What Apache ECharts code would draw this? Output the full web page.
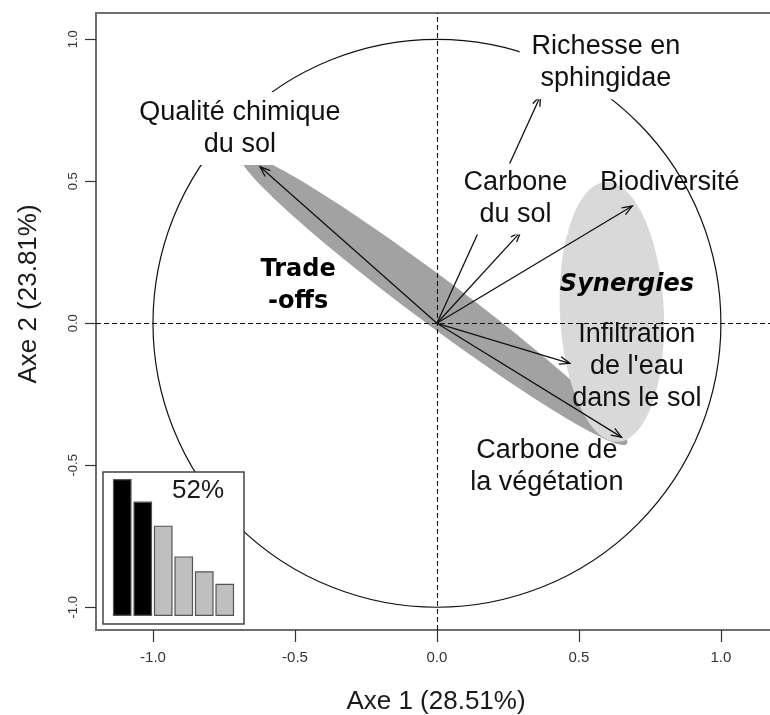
<!DOCTYPE html>
<html>
<head>
<meta charset="utf-8">
<script src="https://cdn.jsdelivr.net/npm/echarts@6/dist/echarts.min.js"></script>
<style>
  html, body { margin: 0; padding: 0; background: #ffffff; }
  #chart { width: 770px; height: 715px; }
</style>
</head>
<body>
<div id="chart"></div>
<script>
// ---- Correlation circle: loadings of each variable on axes 1 and 2 ----
const variableNames = [
  'Qualité chimique du sol',
  'Richesse en sphingidae',
  'Carbone du sol',
  'Biodiversité',
  "Infiltration de l'eau dans le sol",
  'Carbone de la végétation'
];
const axis1Loadings = [-0.623, 0.365, 0.295, 0.688, 0.468, 0.650];
const axis2Loadings = [0.551, 0.801, 0.322, 0.413, -0.141, -0.401];

// Variable labels as printed (with line breaks)
const variableLabels = [
  'Qualité chimique\ndu sol',
  'Richesse en\nsphingidae',
  'Carbone\ndu sol',
  'Biodiversité',
  "Infiltration\nde l'eau\ndans le sol",
  'Carbone de\nla végétation'
];

// Percentage of inertia for each principal axis (eigenvalue bar plot)
const eigenPercent = [28.51, 23.81, 18.8, 12.4, 9.3, 6.7];
const retainedAxes = 2;

// Group envelopes (in axis units)
const groupNames = ['Trade\n-offs', 'Synergies'];
const groupCenterX = [-0.012, 0.616];
const groupCenterY = [0.084, 0.040];
const groupSemiMajor = [0.850, 0.458];
const groupSemiMinor = [0.082, 0.183];
const groupAngleDeg = [-36.75, 92.65];

// Tick values shared by both axes
const axisTicks = [-1, -0.5, 0, 0.5, 1];

// ---- layout (label anchors, in axis units; white box padding in px) ----
const labelAnchorX = [-0.694, 0.595, 0.271, 0.820, 0.704, 0.387];
const labelAnchorY = [0.686, 0.917, 0.438, 0.494, -0.154, -0.506];
const labelBoxPadding = [[6, 11, 3, 11], [6, 12, 3, 12], [4, 1, 3, 4], null, null, null];
const groupLabelX = [-0.489, 0.669];
const groupLabelY = [0.131, 0.135];

const FONT = '"Liberation Sans", Arial, Helvetica, sans-serif';
const X_MIN = -1.2007, X_MAX = 1.194;
const Y_MIN = -1.080, Y_MAX = 1.0926;

const chart = echarts.init(document.getElementById('chart'), null, { renderer: 'canvas' });

// Ellipse outline sampled in data space, projected through the axes
function ellipseItem(params, api) {
  const cx = api.value(0), cy = api.value(1);
  const a = api.value(2), b = api.value(3);
  const phi = api.value(4) * Math.PI / 180;
  const pts = [];
  const n = 120;
  for (let k = 0; k < n; k++) {
    const t = 2 * Math.PI * k / n;
    const ex = a * Math.cos(t), ey = b * Math.sin(t);
    const x = cx + ex * Math.cos(phi) - ey * Math.sin(phi);
    const y = cy + ex * Math.sin(phi) + ey * Math.cos(phi);
    pts.push(api.coord([x, y]));
  }
  return {
    type: 'polygon',
    shape: { points: pts },
    style: { fill: params.dataIndex === 0 ? '#a2a2a2' : '#d9d9d9', stroke: null }
  };
}

// Loading vector: segment from the origin with an open arrow head
function arrowItem(params, api) {
  const o = api.coord([0, 0]);
  const p = api.coord([api.value(0), api.value(1)]);
  const ang = Math.atan2(p[1] - o[1], p[0] - o[0]);
  const len = 11, spread = 0.36;
  const h1 = [p[0] - len * Math.cos(ang - spread), p[1] - len * Math.sin(ang - spread)];
  const h2 = [p[0] - len * Math.cos(ang + spread), p[1] - len * Math.sin(ang + spread)];
  const stroke = { stroke: '#111', lineWidth: 1.3, fill: null };
  return {
    type: 'group',
    children: [
      { type: 'line', shape: { x1: o[0], y1: o[1], x2: p[0], y2: p[1] }, style: stroke },
      { type: 'polyline', shape: { points: [h1, p, h2] }, style: stroke }
    ]
  };
}

// Unit circle of correlations
function circleItem(params, api) {
  const c = api.coord([0, 0]);
  const r = api.size([1, 1])[0];
  return {
    type: 'circle',
    shape: { cx: c[0], cy: c[1], r: r },
    style: { fill: null, stroke: '#111', lineWidth: 1.2 }
  };
}

const groupData = groupCenterX.map((x, i) => [x, groupCenterY[i], groupSemiMajor[i], groupSemiMinor[i], groupAngleDeg[i]]);
const arrowData = axis1Loadings.map((x, i) => ({ name: variableNames[i], value: [x, axis2Loadings[i]] }));
const labelData = labelAnchorX.map((x, i) => {
  const item = { name: variableLabels[i], value: [x, labelAnchorY[i]] };
  if (labelBoxPadding[i]) {
    item.label = { backgroundColor: '#ffffff', padding: labelBoxPadding[i] };
  }
  return item;
});
const groupLabelData = groupLabelX.map((x, i) => ({
  name: groupNames[i],
  value: [x, groupLabelY[i]],
  label: { fontStyle: i === 1 ? 'italic' : 'normal' }
}));

const plainAxisLine = { show: false, onZero: false };

const option = {
  animation: false,
  backgroundColor: '#ffffff',
  grid: [
    { left: 96, top: 13, width: 680, height: 617, show: true, borderColor: '#6e6e6e', borderWidth: 2, backgroundColor: 'transparent', outerBoundsMode: 'none', containLabel: false },
    { left: 103, top: 472, width: 141, height: 152, show: true, borderColor: '#444', borderWidth: 1.5, backgroundColor: '#ffffff', z: 10, outerBoundsMode: 'none' },
    { left: 112, top: 472, width: 123, height: 144, z: 11, outerBoundsMode: 'none' }
  ],
  xAxis: [
    {
      type: 'value', gridIndex: 0, min: X_MIN, max: X_MAX, position: 'bottom',
      axisLine: plainAxisLine,
      splitLine: { show: false },
      axisTick: { show: true, inside: false, length: 12, customValues: axisTicks, lineStyle: { color: '#333', width: 1.2 } },
      axisLabel: { customValues: axisTicks, formatter: v => v.toFixed(1), fontSize: 15, color: '#333', fontFamily: FONT, margin: 20 },
      name: 'Axe 1 (28.51%)', nameLocation: 'middle', nameGap: 59,
      nameTextStyle: { fontSize: 26, color: '#1a1a1a', fontFamily: FONT }
    },
    { type: 'value', gridIndex: 1, min: 0, max: 1, show: false },
    { type: 'category', gridIndex: 2, data: eigenPercent.map((_, i) => String(i + 1)), show: false, boundaryGap: true }
  ],
  yAxis: [
    {
      type: 'value', gridIndex: 0, min: Y_MIN, max: Y_MAX, position: 'left',
      axisLine: plainAxisLine,
      splitLine: { show: false },
      axisTick: { show: true, inside: false, length: 11, customValues: axisTicks, lineStyle: { color: '#333', width: 1.2 } },
      axisLabel: { customValues: axisTicks, formatter: v => v.toFixed(1), rotate: 90, fontSize: 13, color: '#333', fontFamily: FONT, margin: 16 }
    },
    { type: 'value', gridIndex: 1, min: 0, max: 1, show: false },
    { type: 'value', gridIndex: 2, min: 0, max: 29.97, show: false }
  ],
  graphic: [
    {
      type: 'text', x: 29, y: 294, rotation: Math.PI / 2, z: 20,
      style: { text: 'Axe 2 (23.81%)', fontSize: 26, fontFamily: FONT, fill: '#1a1a1a', align: 'center', verticalAlign: 'middle' }
    },
    {
      type: 'text', x: 198, y: 491, z: 30,
      style: {
        text: Math.round(eigenPercent.slice(0, retainedAxes).reduce((s, v) => s + v, 0)) + '%',
        fontSize: 26, fontFamily: FONT, fill: '#1a1a1a', align: 'center', verticalAlign: 'middle'
      }
    }
  ],
  series: [
    {
      type: 'custom', name: 'groupes', xAxisIndex: 0, yAxisIndex: 0, z: 2,
      renderItem: ellipseItem, data: groupData, silent: true
    },
    {
      type: 'custom', name: 'cercle', xAxisIndex: 0, yAxisIndex: 0, z: 4,
      renderItem: circleItem, data: [[0, 0]], silent: true,
      markLine: {
        silent: true, symbol: 'none', label: { show: false },
        lineStyle: { color: '#111', width: 1.1, type: [5, 3] },
        data: [{ xAxis: 0 }, { yAxis: 0 }]
      }
    },
    {
      type: 'custom', name: 'variables', xAxisIndex: 0, yAxisIndex: 0, z: 5,
      renderItem: arrowItem, data: arrowData, silent: true
    },
    {
      type: 'scatter', name: 'étiquettes', xAxisIndex: 0, yAxisIndex: 0, z: 6,
      symbolSize: 0, data: labelData, silent: true,
      itemStyle: { opacity: 1 },
      label: {
        show: true, position: 'inside', formatter: p => p.name,
        fontSize: 27, lineHeight: 32, color: '#111', fontFamily: FONT, align: 'center', verticalAlign: 'middle'
      }
    },
    {
      type: 'scatter', name: 'groupes-étiquettes', xAxisIndex: 0, yAxisIndex: 0, z: 6,
      symbolSize: 0, data: groupLabelData, silent: true,
      itemStyle: { opacity: 1 },
      label: {
        show: true, position: 'inside', formatter: p => p.name,
        fontSize: 24, lineHeight: 32, fontWeight: 'bold', color: '#000', fontFamily: '"DejaVu Sans", sans-serif', align: 'center', verticalAlign: 'middle'
      }
    },
    {
      type: 'bar', name: 'valeurs propres', xAxisIndex: 2, yAxisIndex: 2, z: 12,
      barCategoryGap: '9%', silent: true,
      data: eigenPercent.map((v, i) => ({
        value: v,
        itemStyle: { color: i < retainedAxes ? '#000000' : '#bfbfbf', borderColor: '#555', borderWidth: 1.2 }
      }))
    }
  ]
};

chart.setOption(option);
</script>
</body>
</html>
